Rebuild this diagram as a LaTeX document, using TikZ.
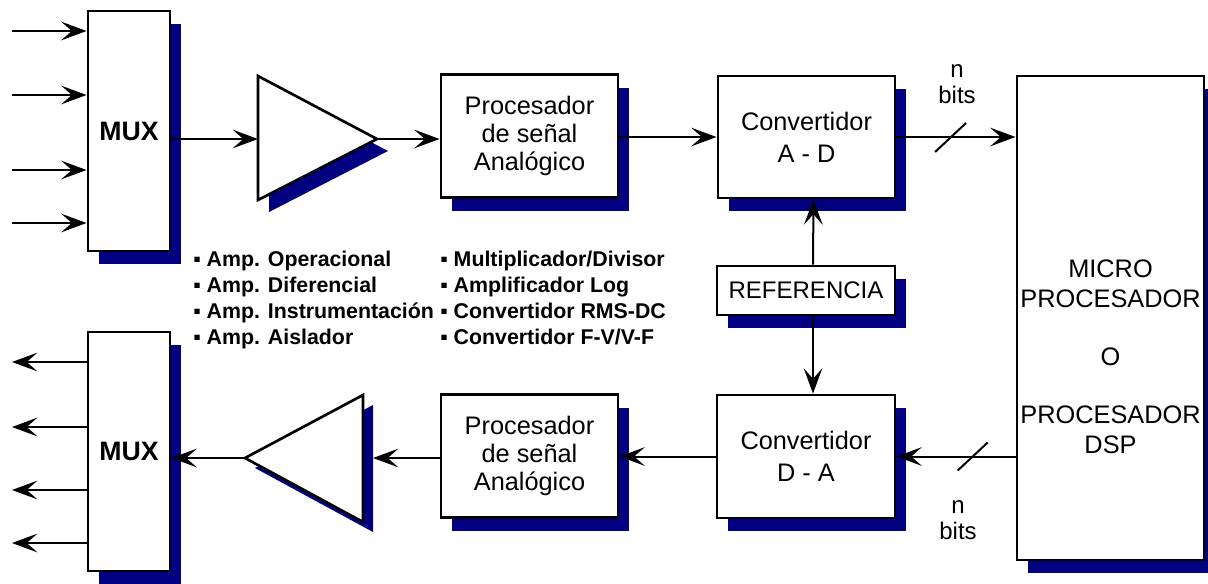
\documentclass[tikz,border=0pt]{standalone}
\usepackage{fontspec}
\setmainfont{Liberation Sans}
\usepackage{tikz}
\usetikzlibrary{arrows.meta,shadows}

\definecolor{shadowblue}{RGB}{0,0,128}

\tikzset{
  blk/.style={draw, line width=2.2pt, fill=white, inner sep=0pt, align=center,
    font=\fontsize{19}{21}\selectfont,
    drop shadow={shadow xshift=8.25pt, shadow yshift=-9.75pt, fill=shadowblue, opacity=1}},
  sig/.style={line width=1.5pt, -{Stealth[length=19pt,width=14pt,inset=8pt]}},
  amp/.style={draw, line width=2pt, fill=white, line join=miter},
  lst/.style={font=\bfseries\fontsize{16}{19.5}\selectfont, align=left, inner sep=0pt},
  bitlbl/.style={font=\fontsize{18}{20}\selectfont, align=center, inner sep=0pt}
}

\begin{document}
\begin{tikzpicture}[x=0.75pt, y=-0.75pt]

\useasboundingbox (0,0) rectangle (1208,583);

% Multiplexers
\node[blk, minimum width=61.5pt, minimum height=180pt, font=\bfseries\fontsize{20}{24}\selectfont] (mux1) at (129,131) {MUX};
\node[blk, minimum width=61.5pt, minimum height=179.25pt, font=\bfseries\fontsize{20}{24}\selectfont] (mux2) at (129,451.5) {MUX};

% Inputs and outputs
\coordinate (in1) at (12,31);
\coordinate (in2) at (12,95);
\coordinate (in3) at (12,170);
\coordinate (in4) at (12,223);
\draw[sig, line width=2.2pt] (in1) -- (in1 -| mux1.west);
\draw[sig] (in2) -- (in2 -| mux1.west);
\draw[sig] (in3) -- (in3 -| mux1.west);
\draw[sig] (in4) -- (in4 -| mux1.west);

\coordinate (out1) at (12,362);
\coordinate (out2) at (12,427);
\coordinate (out3) at (12,490);
\coordinate (out4) at (12,543);
\draw[sig] (out1 -| mux2.west) -- (out1);
\draw[sig, line width=2.2pt] (out2 -| mux2.west) -- (out2);
\draw[sig] (out3 -| mux2.west) -- (out3);
\draw[sig] (out4 -| mux2.west) -- (out4);

% Amplifiers
\fill[shadowblue, shift={(11,12)}] (258,76) -- (258,200) -- (377,139) -- cycle;
\draw[amp] (258,76) -- (258,200) -- (377,139) -- cycle;
\coordinate (amp1in) at (258,139);
\coordinate (amp1out) at (377,139);

\fill[shadowblue, shift={(10,10)}] (363,395) -- (363,522) -- (245,458) -- cycle;
\draw[amp] (363,395) -- (363,522) -- (245,458) -- cycle;
\coordinate (amp2in) at (373,458);
\coordinate (amp2out) at (245,458);

% Signal processors and converters
\node[blk, minimum width=132.75pt, minimum height=92.25pt] (proc1) at (529.5,136) {Procesador\\de señal\\Analógico};
\node[blk, minimum width=132.75pt, minimum height=92.25pt] (proc2) at (529.5,456) {Procesador\\de señal\\Analógico};
\node[blk, minimum width=132.75pt, minimum height=91.5pt, font=\fontsize{19}{24}\selectfont] (ad) at (806.5,137) {Convertidor\\A - D};
\node[blk, minimum width=133.5pt, minimum height=92.25pt, font=\fontsize{19}{24}\selectfont] (da) at (806,456.5) {Convertidor\\D - A};
\node[blk, minimum width=133.5pt, minimum height=36.75pt, font=\fontsize{18}{21}\selectfont] (ref) at (806,290.5) {REFERENCIA};

% Processor
\node[blk, minimum width=140.25pt, minimum height=363pt] (micro) at (1110.5,318) {};
\node[align=center, inner sep=0pt, font=\fontsize{19}{22.5}\selectfont] (microtxt) at (1110.5,357)
  {MICRO\\PROCESADOR\\[21pt]O\\[21pt]PROCESADOR\\DSP};

% Top chain
\draw[sig] (amp1in -| mux1.east) -- (amp1in);
\draw[sig] (amp1out) -- (amp1out -| proc1.west);
\draw[sig] (proc1.east |- ad.west) -- (ad.west);
\draw[sig] (ad.east) -- coordinate[pos=0.45] (nb1) (ad.east -| micro.west);
\draw[line width=1.5pt] ([shift={(-15,15)}]nb1) -- ([shift={(16,-14)}]nb1);
\node[bitlbl] (bits1) at (957,84) {n\\bits};

% Reference
\draw[sig] ([xshift=5.25pt]ref.north) -- ([xshift=5.25pt]ad.south);
\draw[sig] ([xshift=5.25pt]ref.south) -- ([xshift=5.25pt]da.north);

% Bottom chain
\draw[sig] (da.east -| micro.west) -- coordinate[pos=0.36] (nb2) (da.east);
\draw[line width=1.5pt] ([shift={(-15,14)}]nb2) -- ([shift={(15,-14)}]nb2);
\node[bitlbl] (bits2) at (958,520) {n\\bits};
\draw[sig] (da.west) -- (da.west -| proc2.east);
\draw[sig] (proc2.west |- amp2in) -- (amp2in);
\draw[sig] (amp2out) -- (amp2out -| mux2.east);

% Lists
\node[lst, anchor=north west] (amplist) at (193,251)
  {▪ Amp. Operacional\\▪ Amp. Diferencial\\▪ Amp. Instrumentación\\▪ Amp. Aislador};
\node[lst, anchor=north west] (proclist) at (440,251)
  {▪ Multiplicador/Divisor\\▪ Amplificador Log\\▪ Convertidor RMS-DC\\▪ Convertidor F-V/V-F};

\end{tikzpicture}
\end{document}
